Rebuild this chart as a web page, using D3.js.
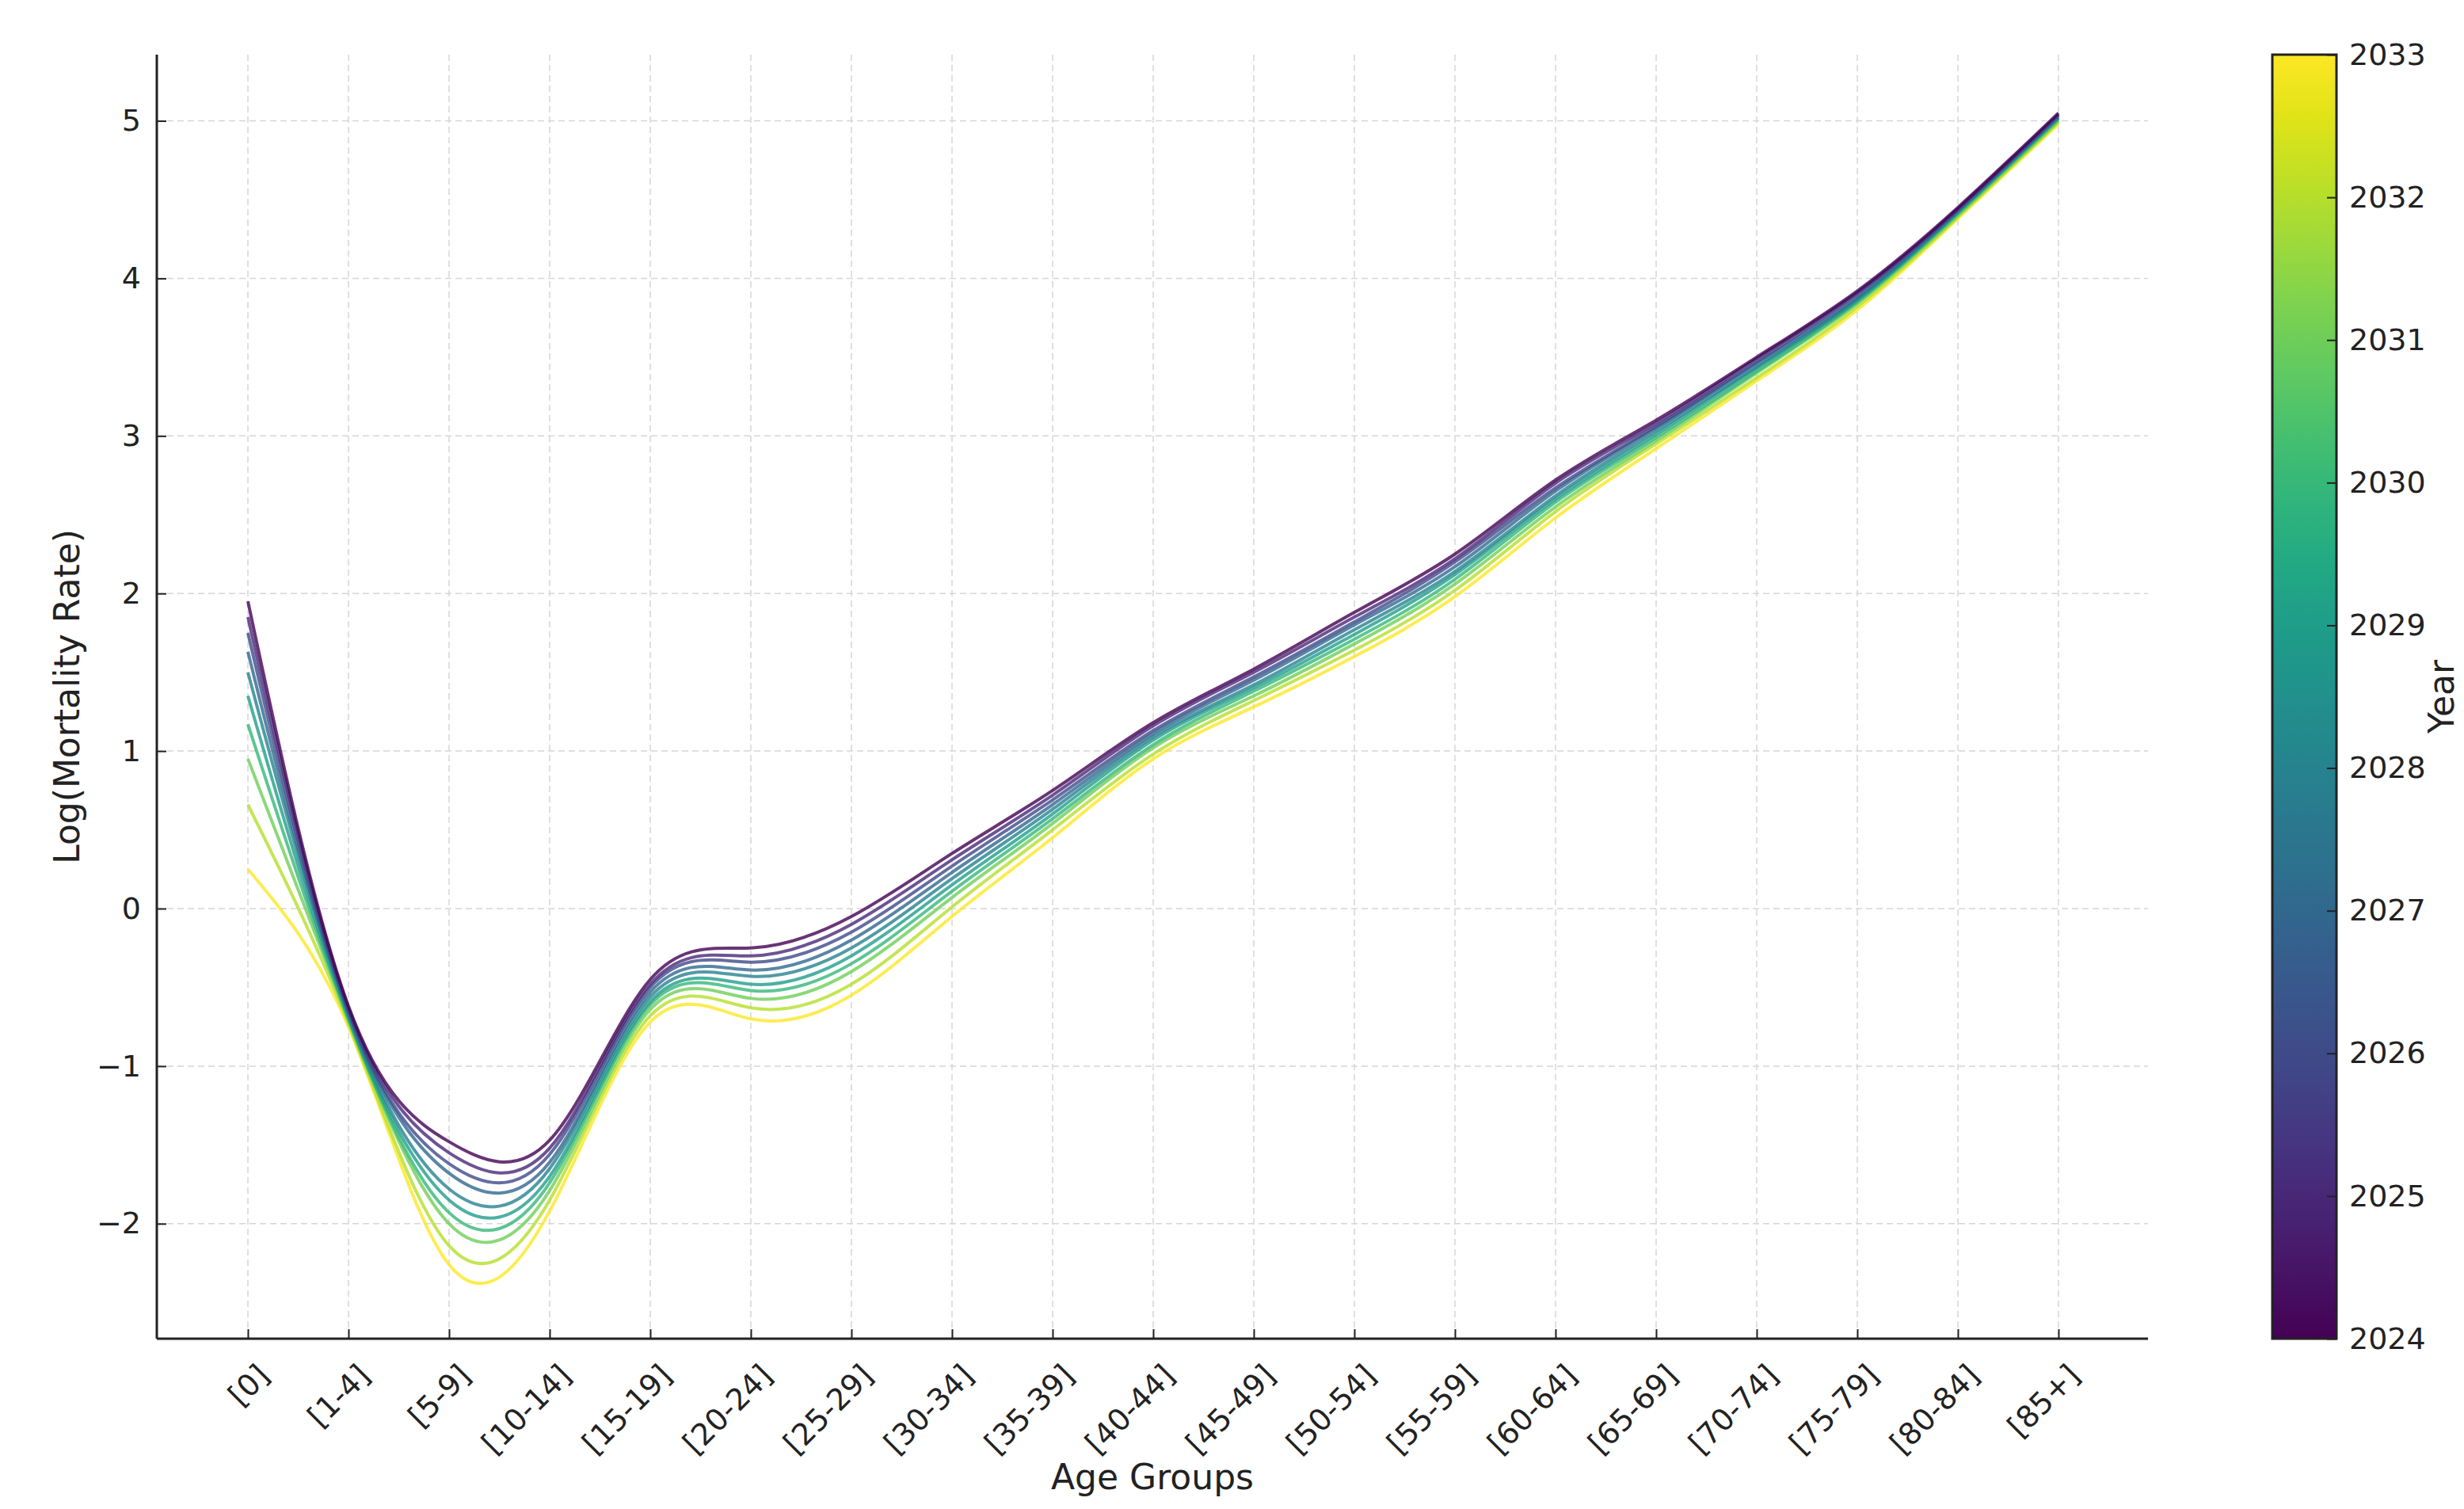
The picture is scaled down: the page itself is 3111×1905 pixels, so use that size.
<!DOCTYPE html>
<html><head><meta charset="utf-8">
<script src="https://cdn.jsdelivr.net/npm/d3@7"></script>
<style>body{margin:0;background:#fff}text{font-family:"DejaVu Sans",sans-serif}</style>
</head><body><svg id="c" width="3111" height="1905"></svg>
<script>
const ageGroups=["[0]","[1-4]","[5-9]","[10-14]","[15-19]","[20-24]","[25-29]","[30-34]","[35-39]","[40-44]","[45-49]","[50-54]","[55-59]","[60-64]","[65-69]","[70-74]","[75-79]","[80-84]","[85+]"];
const years=[2024,2025,2026,2027,2028,2029,2030,2031,2032,2033];
const yTicks=[-2,-1,0,1,2,3,4,5];
// rows: age group, columns: year 2024..2033
const valuesByAge=[
[1.95,1.85,1.75,1.63,1.50,1.35,1.17,0.95,0.66,0.25],
[-0.62,-0.63,-0.65,-0.66,-0.67,-0.69,-0.70,-0.71,-0.73,-0.75],
[-1.48,-1.55,-1.62,-1.68,-1.78,-1.85,-1.93,-2.00,-2.14,-2.26],
[-1.47,-1.52,-1.56,-1.61,-1.65,-1.70,-1.74,-1.79,-1.85,-1.92],
[-0.45,-0.48,-0.50,-0.53,-0.56,-0.59,-0.61,-0.64,-0.68,-0.72],
[-0.25,-0.30,-0.34,-0.39,-0.43,-0.48,-0.52,-0.57,-0.63,-0.70],
[-0.05,-0.10,-0.15,-0.20,-0.25,-0.30,-0.35,-0.40,-0.48,-0.55],
[0.35,0.31,0.27,0.23,0.19,0.15,0.11,0.07,0.01,-0.05],
[0.75,0.72,0.69,0.66,0.63,0.60,0.57,0.54,0.50,0.45],
[1.18,1.16,1.13,1.11,1.09,1.07,1.04,1.02,0.98,0.95],
[1.52,1.50,1.47,1.45,1.42,1.40,1.38,1.35,1.32,1.28],
[1.88,1.85,1.82,1.80,1.77,1.74,1.71,1.68,1.64,1.60],
[2.25,2.22,2.20,2.17,2.14,2.12,2.09,2.06,2.02,1.98],
[2.72,2.70,2.67,2.65,2.62,2.60,2.58,2.55,2.52,2.48],
[3.10,3.08,3.06,3.05,3.03,3.01,2.99,2.97,2.95,2.92],
[3.50,3.49,3.47,3.46,3.44,3.43,3.41,3.40,3.37,3.35],
[3.92,3.91,3.90,3.88,3.87,3.86,3.85,3.84,3.82,3.80],
[4.45,4.44,4.44,4.43,4.42,4.42,4.41,4.40,4.39,4.38],
[5.05,5.04,5.04,5.03,5.02,5.02,5.01,5.00,4.99,4.98]];
const series=d3.transpose(valuesByAge);

const svg=d3.select("#c");
const L=198,R=2712,T=69,B=1690;
const x=d3.scalePoint().domain(ageGroups).range([313,2599]);
const y=d3.scaleLinear().domain([-2.73,5.42]).range([B,T]);
const col=d3.scaleSequential(d3.interpolateViridis).domain([2024,2033]);
const fs=38;
svg.append("g").selectAll("line").data(ageGroups).join("line")
 .attr("x1",d=>x(d)).attr("x2",d=>x(d)).attr("y1",T).attr("y2",B)
 .attr("stroke","#d6d6d6").attr("stroke-width",1.5).attr("stroke-dasharray","8,5");
svg.append("g").selectAll("line").data(yTicks).join("line")
 .attr("x1",L).attr("x2",R).attr("y1",d=>y(d)).attr("y2",d=>y(d))
 .attr("stroke","#d6d6d6").attr("stroke-width",1.5).attr("stroke-dasharray","8,5");
const line=d3.line().x((d,i)=>x(ageGroups[i])).y(d=>y(d)).curve(d3.curveNatural);
svg.append("g").selectAll("path").data(series.map((s,i)=>({s,yr:years[i]})).reverse()).join("path")
 .attr("d",d=>line(d.s)).attr("fill","none").attr("stroke",d=>col(d.yr))
 .attr("stroke-opacity",0.8).attr("stroke-width",4);
const xa=svg.append("g").attr("transform",`translate(0,${B})`)
 .call(d3.axisBottom(x).tickSizeInner(-12).tickSizeOuter(0).tickPadding(22));
xa.select(".domain").remove();
xa.selectAll("text").attr("font-size",fs).attr("fill","#222").attr("text-anchor","end")
 .attr("transform",function(){const yy=+d3.select(this).attr("y");return `translate(10,${yy+8}) rotate(-45)`;}).attr("y",0).attr("dy","0.7em");
xa.selectAll("line").attr("stroke","#222").attr("stroke-width",2);
const ya=svg.append("g").attr("transform",`translate(${L},0)`)
 .call(d3.axisLeft(y).tickValues(yTicks).tickSizeInner(-12).tickSizeOuter(0).tickPadding(20).tickFormat(d=>d<0?"\u2212"+(-d):d));
ya.select(".domain").remove();
ya.selectAll("text").attr("font-size",fs).attr("fill","#222");
ya.selectAll("line").attr("stroke","#222").attr("stroke-width",2);
svg.append("line").attr("x1",L).attr("x2",L).attr("y1",T).attr("y2",B).attr("stroke","#222").attr("stroke-width",3);
svg.append("line").attr("x1",L).attr("x2",R).attr("y1",B).attr("y2",B).attr("stroke","#222").attr("stroke-width",3);
svg.append("text").attr("x",(L+R)/2).attr("y",1880).attr("text-anchor","middle").attr("font-size",44).attr("fill","#222").text("Age Groups");
svg.append("text").attr("transform",`translate(100,${(T+B)/2}) rotate(-90)`).attr("text-anchor","middle").attr("font-size",44).attr("fill","#222").text("Log(Mortality Rate)");
const cx0=2869,cx1=2950;
const defs=svg.append("defs");
const g=defs.append("linearGradient").attr("id","vg").attr("x1",0).attr("x2",0).attr("y1",1).attr("y2",0);
d3.range(0,1.001,0.05).forEach(t=>g.append("stop").attr("offset",t).attr("stop-color",d3.interpolateViridis(t)));
svg.append("rect").attr("x",cx0).attr("y",T).attr("width",cx1-cx0).attr("height",B-T).attr("fill","url(#vg)").attr("stroke","#222").attr("stroke-width",3);
const cy=d3.scaleLinear().domain([2024,2033]).range([B,T]);
const ca=svg.append("g").attr("transform",`translate(${cx1},0)`)
 .call(d3.axisRight(cy).tickValues(years).tickFormat(d3.format("d")).tickSizeInner(-12).tickSizeOuter(0).tickPadding(16));
ca.select(".domain").remove();
ca.selectAll("text").attr("font-size",fs).attr("fill","#222");
ca.selectAll("line").attr("stroke","#222").attr("stroke-width",2);
svg.append("text").attr("transform",`translate(3098,${(T+B)/2}) rotate(-90)`).attr("text-anchor","middle").attr("font-size",44).attr("fill","#222").text("Year");
</script></body></html>
